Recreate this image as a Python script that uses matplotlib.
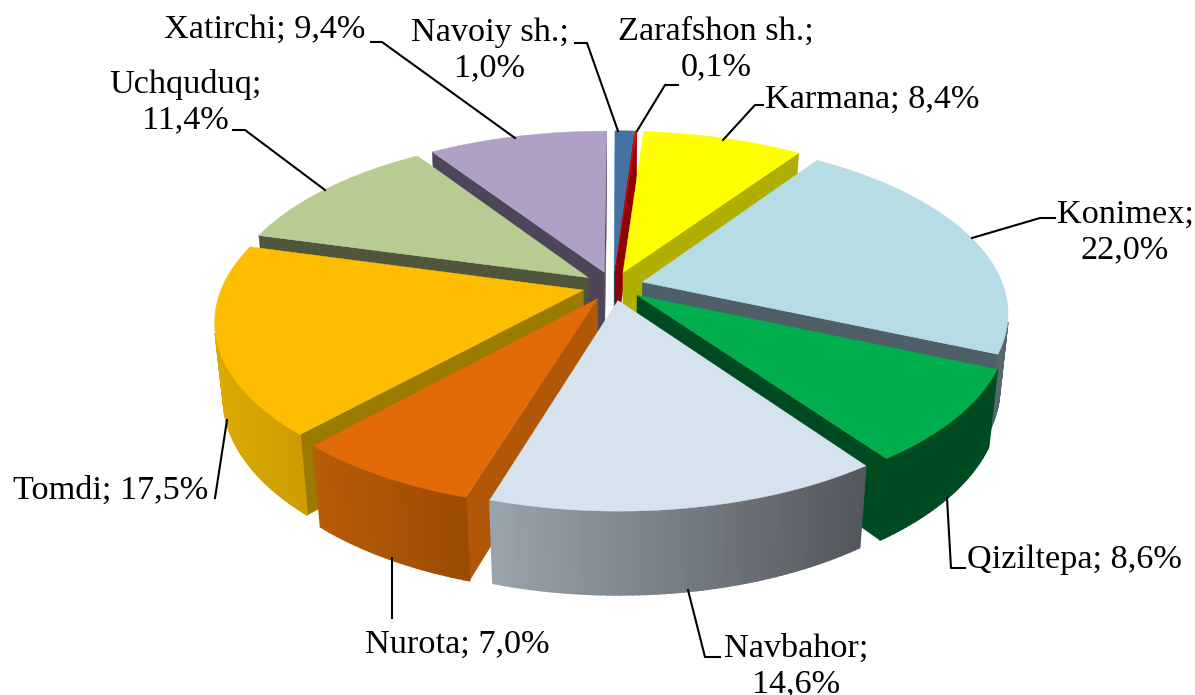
import numpy as np
import matplotlib
matplotlib.use('Agg')
import matplotlib.pyplot as plt
from matplotlib.patches import Polygon
from matplotlib.colors import to_rgb

# chart values, clockwise from 12 o'clock
names = ['Navoiy sh.', 'Zarafshon sh.', 'Karmana', 'Konimex', 'Qiziltepa',
         'Navbahor', 'Nurota', 'Tomdi', 'Uchquduq', 'Xatirchi']
shares = [1.0, 0.1, 8.4, 22.0, 8.6, 14.6, 7.0, 17.5, 11.4, 9.4]

top_colors = ['#4472a5', '#dc0000', '#ffff00', '#b6dce5', '#00ae4d',
              '#d7e2ef', '#e26b08', '#fdbd00', '#b7cb93', '#b0a0c6']
cut_colors = ['#2c4c70', '#900000', '#b0ae00', '#4f5f67', '#004a22',
              '#5c6066', '#b05808', '#9b7a00', '#4f563c', '#4d4558']
rim_left = ['#3b628e', '#a00000', '#c0c000', '#5f7078', '#004a22',
            '#9aa4ac', '#b85c08', '#dcaa00', '#7c8a60', '#75698a']
rim_right = ['#3b628e', '#a00000', '#c0c000', '#56666e', '#004a22',
             '#54575d', '#9a4b04', '#cc9c00', '#7c8a60', '#75698a']

# label layout: text, x, y, ha
label_texts = ['Navoiy sh.;\n1,0%', 'Zarafshon sh.;\n0,1%', 'Karmana; 8,4%',
               'Konimex;\n22,0%', 'Qiziltepa; 8,6%', 'Navbahor;\n14,6%',
               'Nurota; 7,0%', 'Tomdi; 17,5%', 'Uchquduq;\n11,4%', 'Xatirchi; 9,4%']
label_pos = [(490, 50, 'center'), (716, 49, 'center'), (765, 100, 'left'),
             (1125, 232, 'center'), (967, 560, 'left'), (796, 666, 'center'),
             (365, 645, 'left'), (13, 491, 'left'), (185, 102, 'center'),
             (365, 30, 'right')]
leaders = [[(575, 43), (587, 43), (618, 131)],
           [(637, 131), (665, 85), (678, 85)],
           [(723, 140), (755, 105), (763, 105)],
           [(972, 238), (1040, 218), (1055, 218)],
           [(947, 498), (951, 568), (965, 568)],
           [(688, 590), (705, 657), (720, 657)],
           [(392, 558), (392, 618)],
           [(227, 420), (215, 498)],
           [(325, 190), (245, 130), (233, 130)],
           [(515, 138), (382, 42), (371, 42)]]

# camera
cx, cy = 613, 286
scale = 361
tilt = np.radians(28)
dist = 5.2
thick = 0.235
explode = 0.085
rotation = np.radians(0.2)


def project(x, v, z):
    depth = dist - v * np.cos(tilt) - z * np.sin(tilt)
    f = scale * dist / depth
    return cx + f * x, cy + f * (v * np.sin(tilt) - z * np.cos(tilt))


def area(pts):
    p = np.array(pts)
    return 0.5 * np.sum(p[:, 0] * np.roll(p[:, 1], -1) - np.roll(p[:, 0], -1) * p[:, 1])


fig = plt.figure(figsize=(11.95, 6.95), dpi=100)
ax = fig.add_axes([0, 0, 1, 1])
ax.set_xlim(0, 1195)
ax.set_ylim(695, 0)
ax.axis('off')

edges = np.cumsum([0] + shares) / sum(shares) * 2 * np.pi + rotation
mids = (edges[:-1] + edges[1:]) / 2

# back wedges first
order = np.argsort(-np.cos(mids))
for i in order:
    a0, a1 = edges[i], edges[i + 1]
    ox = explode * np.sin(mids[i])
    ov = -explode * np.cos(mids[i])
    n = max(int((a1 - a0) / 0.015), 2)
    ang = np.linspace(a0, a1, n + 1)
    rx = ox + np.sin(ang)
    rv = ov - np.cos(ang)

    def wall(xa, va, xb, vb, color, lw=0.3):
        q = [project(xa, va, 0), project(xb, vb, 0),
             project(xb, vb, -thick), project(xa, va, -thick)]
        if area(q) > 0:
            ax.add_patch(Polygon(q, closed=True, fc=color, ec=color, lw=lw, zorder=2))

    # cut faces
    wall(rx[0], rv[0], ox, ov, cut_colors[i])
    wall(ox, ov, rx[-1], rv[-1], cut_colors[i])

    # rim with a left to right gradient
    c0, c1 = np.array(to_rgb(rim_left[i])), np.array(to_rgb(rim_right[i]))
    xs = [project(a, b, 0)[0] for a, b in zip(rx, rv)]
    lo, hi = min(xs), max(xs)
    for k in range(n):
        t = ((xs[k] + xs[k + 1]) / 2 - lo) / max(hi - lo, 1)
        wall(rx[k + 1], rv[k + 1], rx[k], rv[k], tuple(c0 + (c1 - c0) * t), lw=1.2)

    face = [project(ox, ov, 0)] + [project(a, b, 0) for a, b in zip(rx, rv)]
    ax.add_patch(Polygon(face, closed=True, fc=top_colors[i], ec=top_colors[i], lw=0.3, zorder=2))

for pts in leaders:
    ax.plot([p[0] for p in pts], [p[1] for p in pts], color='black', lw=1.5, zorder=3)

for txt, (x, y, ha) in zip(label_texts, label_pos):
    ax.text(x, y, txt, ha=ha, va='center', ma='center', fontsize=24.7,
            family='Liberation Serif', color='black', linespacing=1.2, zorder=4)

fig.savefig('out.png', dpi=100)
